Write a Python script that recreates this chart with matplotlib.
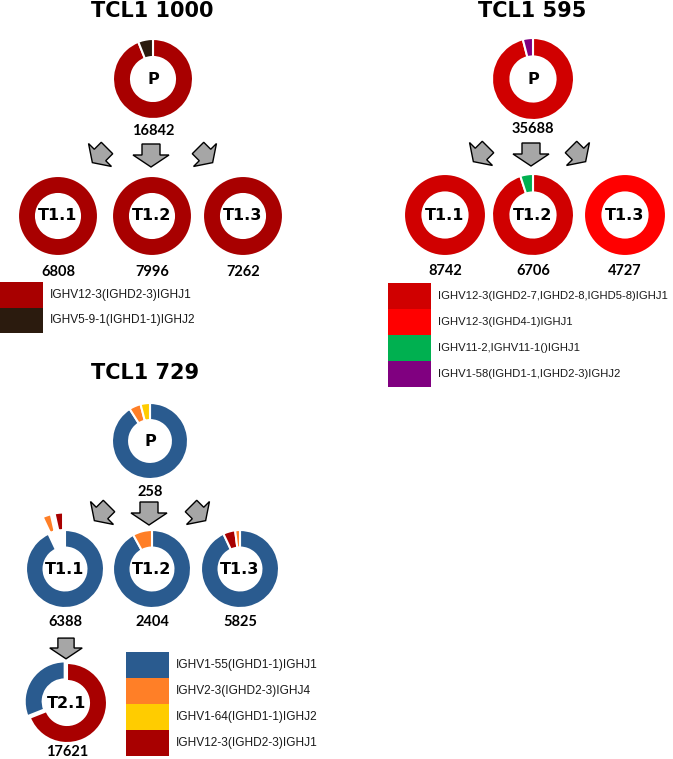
import matplotlib.pyplot as plt
import numpy as np
from matplotlib.patches import Polygon, Rectangle

W, H = 673, 759

# ---- data ----
tcl1000_samples = ['P', 'T1.1', 'T1.2', 'T1.3']
tcl1000_counts = [16842, 6808, 7996, 7262]
tcl1000_fracs = [[94, 6], [100, 0], [100, 0], [100, 0]]
tcl1000_clones = ['IGHV12-3(IGHD2-3)IGHJ1', 'IGHV5-9-1(IGHD1-1)IGHJ2']
tcl1000_colors = ['#A80000', '#2B1B0E']

tcl595_samples = ['P', 'T1.1', 'T1.2', 'T1.3']
tcl595_counts = [35688, 8742, 6706, 4727]
tcl595_fracs = [[96, 0, 0, 4], [100, 0, 0, 0], [95, 0, 5, 0], [0, 100, 0, 0]]
tcl595_clones = ['IGHV12-3(IGHD2-7,IGHD2-8,IGHD5-8)IGHJ1', 'IGHV12-3(IGHD4-1)IGHJ1',
                 'IGHV11-2,IGHV11-1()IGHJ1', 'IGHV1-58(IGHD1-1,IGHD2-3)IGHJ2']
tcl595_colors = ['#D00000', '#FF0000', '#00B050', '#800080']

tcl729_samples = ['P', 'T1.1', 'T1.2', 'T1.3', 'T2.1']
tcl729_counts = [258, 6388, 2404, 5825, 17621]
tcl729_fracs = [[91, 5, 4, 0], [93, 3.5, 0, 3.5], [92, 8, 0, 0], [93, 2, 0, 5], [31, 0, 0, 69]]
tcl729_order = [[0, 1, 2, 3], [0, 1, 2, 3], [0, 1, 2, 3], [0, 3, 1, 2], [3, 0, 1, 2]]
# pulled-out slices, as a fraction of the donut radius
tcl729_explode = [[0, 0, 0, 0], [0, 0.45, 0, 0.45], [0, 0, 0, 0], [0, 0, 0, 0], [0.07, 0, 0, 0]]
tcl729_clones = ['IGHV1-55(IGHD1-1)IGHJ1', 'IGHV2-3(IGHD2-3)IGHJ4',
                 'IGHV1-64(IGHD1-1)IGHJ2', 'IGHV12-3(IGHD2-3)IGHJ1']
tcl729_colors = ['#2A5B8F', '#FF7F27', '#FFCC00', '#A80000']

fig = plt.figure(figsize=(W / 100, H / 100), dpi=100)
ax = fig.add_axes([0, 0, 1, 1])

R = 40


def donut(cx, cy, fracs, colors, label, count, order=None, explode=None, r=R, off=53):
    order = order if order is not None else range(len(fracs))
    vals, cols, exps = [], [], []
    for i in order:
        if fracs[i] > 0:
            vals.append(fracs[i])
            cols.append(colors[i])
            exps.append((explode[i] if explode else 0) * r)
    ax.pie(vals, colors=cols, radius=r, center=(cx, H - cy), startangle=90,
           counterclock=False, explode=exps,
           wedgeprops=dict(width=r * 0.45, edgecolor='white', linewidth=1.5))
    ax.text(cx, H - cy, label, ha='center', va='center', fontsize=11.5,
            fontweight='bold', family='DejaVu Sans')
    ax.text(cx, H - cy - off, str(count), ha='center', va='center', fontsize=10.5,
            fontweight='bold', family='Lato')


def arrow(cx, cy, ang, s=1.0):
    pts = np.array([(-9, 11), (9, 11), (9, 0), (18, 0), (0, -12), (-18, 0), (-9, 0)]) * s
    t = np.deg2rad(ang)
    rot = np.array([[np.cos(t), -np.sin(t)], [np.sin(t), np.cos(t)]])
    pts = pts @ rot.T + np.array([cx, H - cy])
    ax.add_patch(Polygon(pts, closed=True, facecolor='#A6A6A6', edgecolor='black', lw=1))


def legend(x, y, clones, colors, h=25.5, w=43, fs=8.6):
    for i, (c, col) in enumerate(zip(clones, colors)):
        ax.add_patch(Rectangle((x, H - y - (i + 1) * h), w, h, facecolor=col, edgecolor='none'))
        ax.text(x + w + 7, H - y - (i + 0.5) * h, c, ha='left', va='center',
                fontsize=fs, family='Liberation Sans', color='#1a1a1a')


def title(x, y, s):
    ax.text(x, H - y, s, ha='center', va='baseline', fontsize=15, fontweight='bold',
            family='DejaVu Sans')


# TCL1 1000
title(152, 17, 'TCL1 1000')
donut(153, 79, tcl1000_fracs[0], tcl1000_colors, tcl1000_samples[0], tcl1000_counts[0], off=52)
for k, cx in enumerate([58, 152, 243]):
    donut(cx, 216, tcl1000_fracs[k + 1], tcl1000_colors, tcl1000_samples[k + 1], tcl1000_counts[k + 1], off=56)
arrow(100, 155, -45, 0.9)
arrow(151, 155, 0)
arrow(205, 155, 45, 0.9)
legend(0, 282, tcl1000_clones, tcl1000_colors)

# TCL1 595
title(532, 17, 'TCL1 595')
donut(533, 79, tcl595_fracs[0], tcl595_colors, tcl595_samples[0], tcl595_counts[0], r=41, off=50)
for k, cx in enumerate([445, 533, 625]):
    donut(cx, 215, tcl595_fracs[k + 1], tcl595_colors, tcl595_samples[k + 1], tcl595_counts[k + 1], r=41, off=56)
arrow(481, 154, -45, 0.9)
arrow(531, 154, 0)
arrow(578, 154, 45, 0.9)
legend(388, 283, tcl595_clones, tcl595_colors, h=26, fs=8.1)

# TCL1 729
title(145, 379, 'TCL1 729')
donut(150, 441, tcl729_fracs[0], tcl729_colors, tcl729_samples[0], tcl729_counts[0],
      order=tcl729_order[0], explode=tcl729_explode[0], r=38, off=51)
for k, cx in enumerate([65, 152, 240]):
    donut(cx, 569, tcl729_fracs[k + 1], tcl729_colors, tcl729_samples[k + 1], tcl729_counts[k + 1],
          order=tcl729_order[k + 1], explode=tcl729_explode[k + 1], r=39, off=53)
donut(67, 703, tcl729_fracs[4], tcl729_colors, tcl729_samples[4], tcl729_counts[4],
      order=tcl729_order[4], explode=tcl729_explode[4], off=49)
arrow(102, 513, -45, 0.9)
arrow(149, 513, 0)
arrow(198, 513, 45, 0.9)
arrow(66, 648, 0, 0.9)
legend(126, 652, tcl729_clones, tcl729_colors, h=26)

ax.set_xlim(0, W)
ax.set_ylim(0, H)
ax.set_aspect('equal')
ax.axis('off')
fig.savefig('out.png', dpi=100)
